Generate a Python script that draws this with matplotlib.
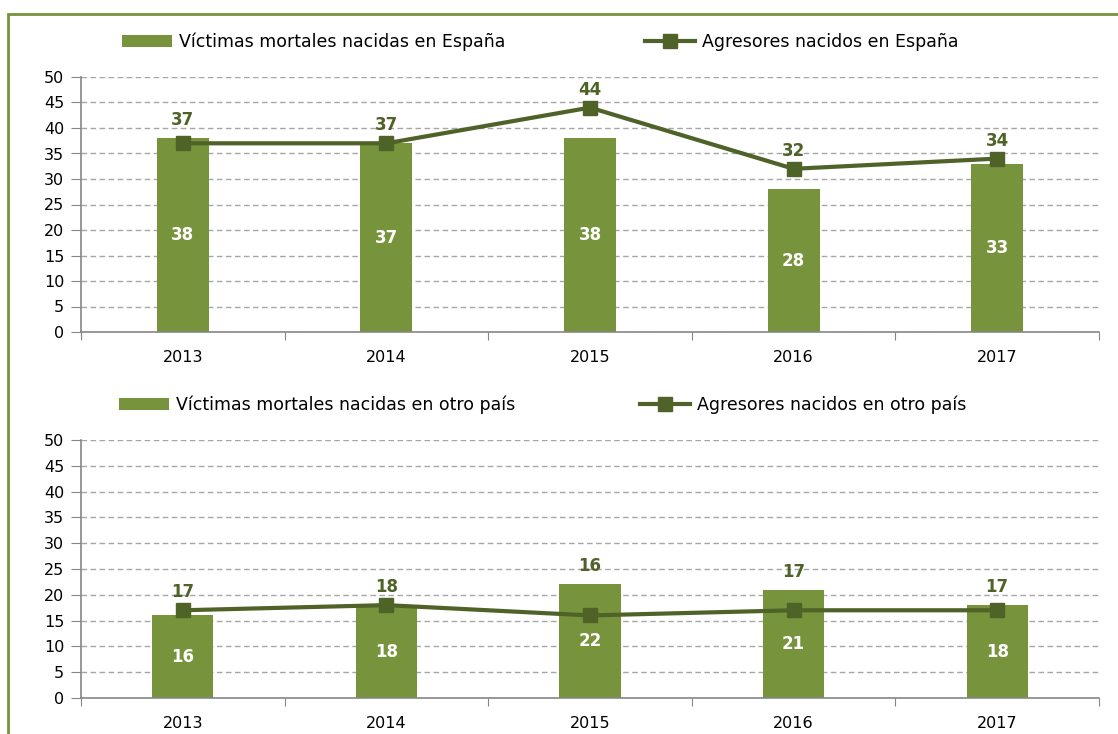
import matplotlib
matplotlib.use("Agg")
import matplotlib.pyplot as plt
from matplotlib.patches import Rectangle
import numpy as np

years = ["2013", "2014", "2015", "2016", "2017"]
victimas_espana = [38, 37, 38, 28, 33]
agresores_espana = [37, 37, 44, 32, 34]
victimas_otro = [16, 18, 22, 21, 18]
agresores_otro = [17, 18, 16, 17, 17]

labels_top = ["Víctimas mortales nacidas en España", "Agresores nacidos en España"]
labels_bot = ["Víctimas mortales nacidas en otro país", "Agresores nacidos en otro país"]

BAR = "#77933C"
LINE = "#4F6228"
GRID = "#A6A6A6"
AXC = "#868686"

plt.rcParams['font.family'] = ['DejaVu Sans']

W, H = 1118, 734
fig = plt.figure(figsize=(W / 100, H / 100), dpi=100)

def fx(px):
    return px / W

def fy(py):
    return 1 - py / H

# green frame
fig.patches.append(Rectangle((fx(8), -0.1), 1.2, fy(14) + 0.1, transform=fig.transFigure,
                             fill=False, edgecolor=BAR, linewidth=2))


def panel(rect, bars, line, labels, bar_width, legend_y, leg_x1, leg_x2):
    ax = fig.add_axes(rect)
    x = np.arange(len(years))
    b = ax.bar(x, bars, width=bar_width, color=BAR, zorder=2, label=labels[0])
    l, = ax.plot(x, line, color=LINE, lw=3, marker='s', markersize=10, zorder=3,
                 label=labels[1])
    ax.set_xlim(-0.5, len(years) - 0.5)
    ax.set_ylim(0, 50)
    ax.set_yticks(np.arange(0, 51, 5))
    ax.yaxis.grid(True, linestyle=(0, (4, 2.5)), color=GRID, lw=1, zorder=0)
    ax.set_axisbelow(True)
    ax.set_xticks(np.arange(-0.5, len(years), 1.0))
    ax.set_xticklabels([])
    ax.set_xticks(x, minor=True)
    ax.set_xticklabels(years, minor=True, fontsize=11.5)
    ax.tick_params(axis='x', which='major', length=6, color=AXC, direction='out')
    ax.tick_params(axis='x', which='minor', length=0, pad=13)
    ax.tick_params(axis='y', length=7, color=AXC, labelsize=11.5, pad=5)
    for s in ['top', 'right']:
        ax.spines[s].set_visible(False)
    for s in ['left', 'bottom']:
        ax.spines[s].set_color(AXC)
        ax.spines[s].set_linewidth(1.2)
    for xi, bv, lv in zip(x, bars, line):
        ax.text(xi, bv / 2, str(bv), ha='center', va='center', color='white',
                fontsize=12, fontweight='bold', zorder=4)
        top = max(bv, lv)
        ax.annotate(str(lv), (xi, top), xytext=(0, 13), textcoords='offset points',
                    ha='center', va='center', color=LINE, fontsize=12,
                    fontweight='bold', zorder=4)
    fig.legend(handles=[b], labels=[labels[0]], loc='center left',
               bbox_to_anchor=(leg_x1, legend_y), bbox_transform=fig.transFigure,
               frameon=False, fontsize=12.5, handlelength=2.9, handletextpad=0.4,
               borderaxespad=0, borderpad=0)
    fig.legend(handles=[l], labels=[labels[1]], loc='center left',
               bbox_to_anchor=(leg_x2, legend_y), bbox_transform=fig.transFigure,
               frameon=False, fontsize=12.5, handlelength=2.9, handletextpad=0.4,
               borderaxespad=0, borderpad=0)
    return ax

panel([fx(81), fy(332), fx(1099) - fx(81), fy(77) - fy(332)],
      victimas_espana, agresores_espana, labels_top, 0.255, fy(42), fx(122), fx(645))
panel([fx(81), fy(698), fx(1099) - fx(81), fy(440) - fy(698)],
      victimas_otro, agresores_otro, labels_bot, 0.30, fy(405), fx(119), fx(640))

fig.savefig("out.png", dpi=100)
